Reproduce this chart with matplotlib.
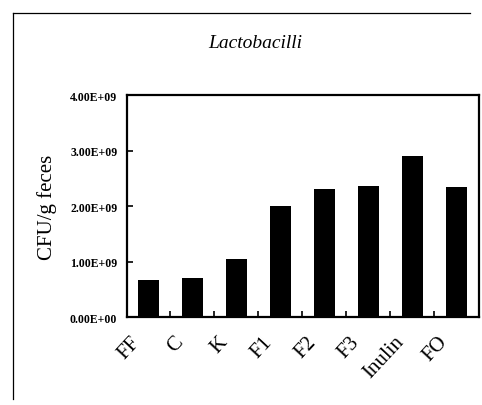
import numpy as np
import matplotlib
matplotlib.use("Agg")
from matplotlib import pyplot as plt
from matplotlib.lines import Line2D

groups = ["FF", "C", "K", "F1", "F2", "F3", "Inulin", "FO"]
cfu = [0.67e9, 0.71e9, 1.04e9, 2.0e9, 2.31e9, 2.36e9, 2.91e9, 2.35e9]
yticks = [0, 1e9, 2e9, 3e9, 4e9]
ytick_labels = ["0.00E+00", "1.00E+09", "2.00E+09", "3.00E+09", "4.00E+09"]

plt.rcParams['font.family'] = ['Liberation Serif', 'DejaVu Serif']

fig = plt.figure(figsize=(4.82, 4.06), dpi=100)
ax = fig.add_axes([0.2635, 0.2167, 0.7303, 0.5468])

x = np.arange(len(groups))
ax.bar(x, cfu, width=0.48, color='black')

ax.set_xlim(-0.48, 7.52)
ax.set_ylim(0, 4e9)
ax.set_yticks(yticks)
ax.set_yticklabels(ytick_labels, fontsize=8.5, fontweight='bold')
# labels sit a little left of the bar centres, as in the original
ax.set_xticks(x - 0.42)
ax.set_xticklabels(groups, fontsize=15, rotation=47, ha='right',
                   rotation_mode='anchor')
ax.set_xticks(x[:-1] + 0.5, minor=True)
ax.tick_params(axis='x', which='major', length=0, pad=11)
ax.tick_params(axis='x', which='minor', direction='in', length=4, width=1.2)
ax.tick_params(axis='y', direction='in', length=4, width=1.2, pad=7)
for s in ax.spines.values():
    s.set_linewidth(1.6)

ax.set_ylabel("CFU/g feces", fontsize=15, labelpad=9)

fig.text(0.53, 1 - 43 / 406, "Lactobacilli", fontsize=14, style='italic',
         ha='center', va='center')

# outer frame lines (top and left only)
fig.add_artist(Line2D([13 / 482, 470 / 482], [1 - 14 / 406, 1 - 14 / 406],
                      color='black', lw=0.9))
fig.add_artist(Line2D([13 / 482, 13 / 482], [1 - 14 / 406, 6 / 406],
                      color='black', lw=0.9))

fig.savefig("out.png", dpi=100)
